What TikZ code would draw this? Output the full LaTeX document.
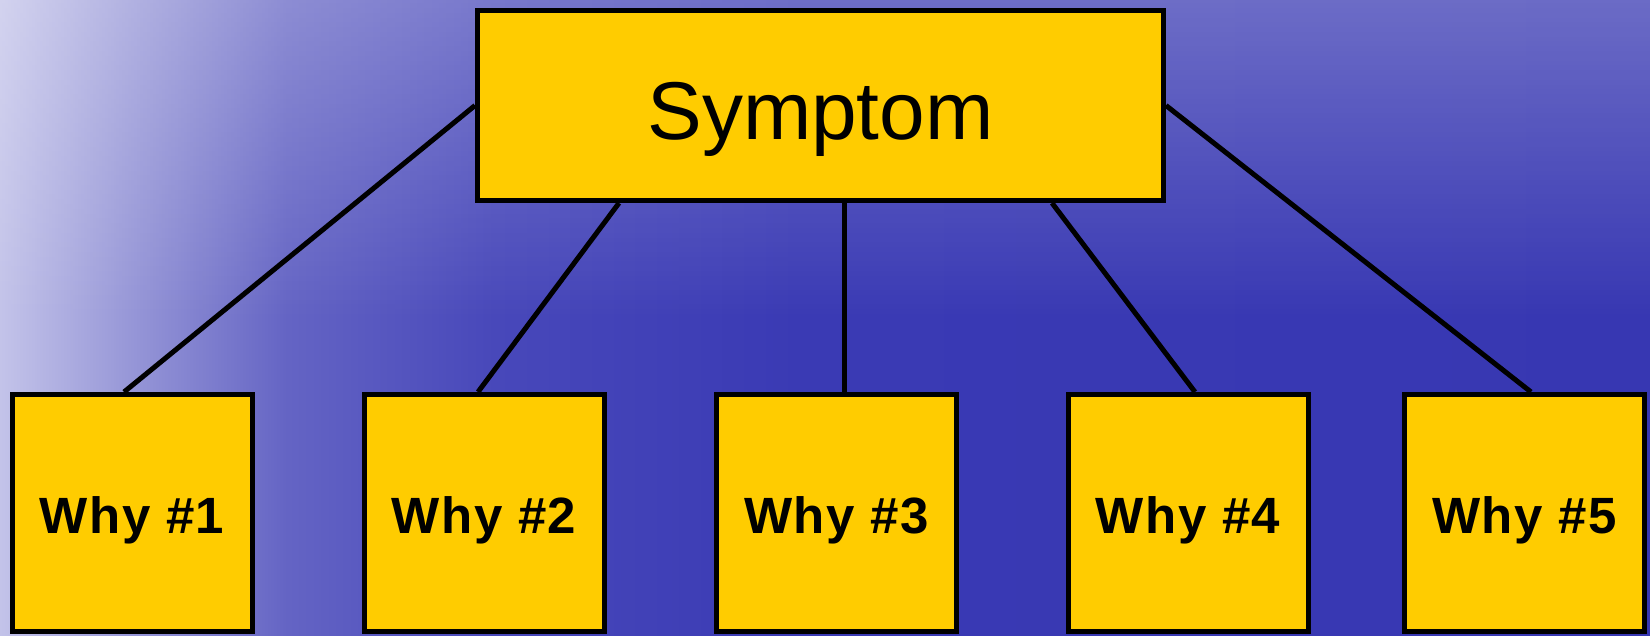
\documentclass[tikz,border=0pt]{standalone}
\usepackage{fontspec}
\setmainfont{Liberation Sans}
\newfontfamily\whyfont[LetterSpace=3]{Liberation Sans}
\usetikzlibrary{fadings,calc}

% water-like backdrop: pale on the left, deep blue towards the right
\definecolor{bgA}{RGB}{202,202,236}
\definecolor{bgB}{RGB}{150,150,215}
\definecolor{bgC}{RGB}{100,100,196}
\definecolor{bgD}{RGB}{72,72,186}
\definecolor{bgE}{RGB}{58,58,180}
\definecolor{bgF}{RGB}{55,55,178}
\definecolor{boxfill}{RGB}{255,204,0}

\pgfdeclarehorizontalshading{waterbg}{100bp}{%
  color(0bp)=(bgA); color(25bp)=(bgA); color(29.5bp)=(bgB);
  color(34.1bp)=(bgC); color(40.2bp)=(bgD); color(49.2bp)=(bgE);
  color(75bp)=(bgF); color(100bp)=(bgF)}

\tikzfading[name=topfade, top color=transparent!72, bottom color=transparent!100]

\tikzset{
  box/.style={draw=black, line width=5pt, fill=boxfill, inner sep=0pt},
  symbox/.style={box, minimum width=686pt, minimum height=190pt,
    font=\fontsize{82}{90}\selectfont, text height=67pt, text depth=0pt},
  whybox/.style={box, minimum width=240pt, minimum height=237pt,
    font=\whyfont\bfseries\fontsize{51}{58}\selectfont, text height=40pt, text depth=0pt},
  link/.style={line width=5pt, draw=black}
}

\begin{document}
\begin{tikzpicture}[x=1pt,y=-1pt]
  \useasboundingbox (0,0) rectangle (1650,635);
  \shade[shading=waterbg] (-20,-20) rectangle (1670,655);
  \fill[white, path fading=topfade] (-20,-20) rectangle (1670,320);

  \node[symbox] (sym) at (820.5,105.5) {Symptom};

  \node[whybox] (w1) at (132,513)    {Why \#1};
  \node[whybox] (w2) at (484,513)    {Why \#2};
  \node[whybox] (w3) at (836.5,513)  {Why \#3};
  \node[whybox] (w4) at (1188,513)   {Why \#4};
  \node[whybox] (w5) at (1524.5,513) {Why \#5};

  \draw[link] (sym.west) -- ($(w1.north)+(-8,0)$);
  \draw[link] ($(sym.south)+(-201.5,0)$) -- ($(w2.north)+(-6,0)$);
  \draw[link] ($(sym.south)+(23.5,0)$) -- ($(w3.north)+(7.5,0)$);
  \draw[link] ($(sym.south)+(231.5,0)$) -- ($(w4.north)+(7,0)$);
  \draw[link] (sym.east) -- ($(w5.north)+(6.5,0)$);
\end{tikzpicture}
\end{document}
